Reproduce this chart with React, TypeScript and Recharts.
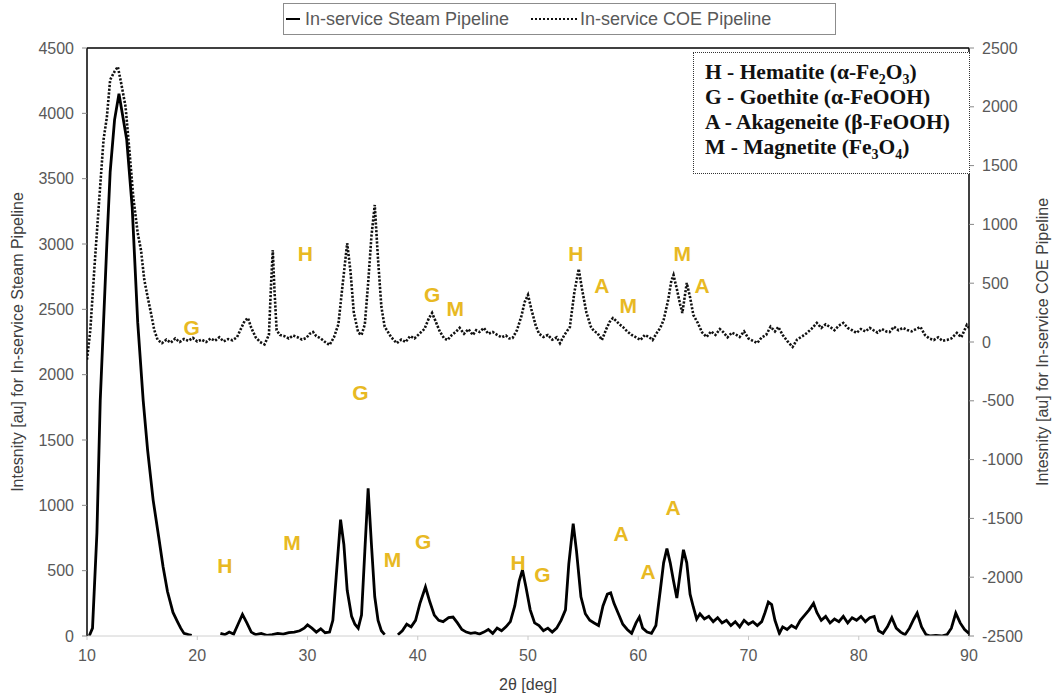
import React from 'react';
import { ComposedChart, Line, Scatter, XAxis, YAxis, ReferenceLine } from 'recharts';

// 2θ positions and intensities
const steamX = [10.2, 10.5, 10.9, 11.2, 11.5, 11.8, 12.1, 12.5, 12.9, 13.2, 13.6, 14.1, 14.6, 15.1, 15.5, 16.0, 16.5, 16.9, 17.3, 17.8, 18.2, 18.5, 18.8, 19.2, 19.5, 19.6, 21.9,
  22.1, 22.5, 22.9, 23.3, 23.7, 24.1, 24.5, 24.9, 25.3, 25.8, 26.3, 26.8, 27.3, 27.8, 28.3, 28.8, 29.3, 29.7, 30.0, 30.4, 30.8, 31.2, 31.6, 32.0,
  32.3, 32.6, 33.0, 33.3, 33.6, 34.0, 34.3, 34.6, 34.9, 35.2, 35.5, 35.8, 36.1, 36.4, 36.7, 37.0, 37.2, 38.0,
  38.2, 38.6, 39.0, 39.4, 39.8, 40.2, 40.7, 41.1, 41.5, 41.9, 42.3, 42.8, 43.2, 43.6, 44.0, 44.4, 44.8, 45.2, 45.6, 46.0, 46.4, 46.8, 47.2, 47.6, 48.0,
  48.4, 48.8, 49.2, 49.5, 49.8, 50.2, 50.6, 51.0, 51.4, 51.8, 52.2, 52.6, 53.0, 53.4, 53.7, 54.1, 54.4, 54.8, 55.2, 55.6, 56.0, 56.4, 56.8, 57.2, 57.5,
  57.8, 58.2, 58.6, 59.0, 59.4, 59.8, 60.1, 60.4, 60.8, 61.2, 61.6, 62.0, 62.3, 62.6, 62.9, 63.2, 63.5, 63.8, 64.1, 64.4, 64.7, 65.0, 65.3, 65.6,
  66.0, 66.4, 66.8, 67.2, 67.6, 68.0, 68.4, 68.8, 69.2, 69.6, 70.0, 70.4, 70.8, 71.2, 71.5, 71.8, 72.1, 72.4, 72.8, 73.1, 73.5, 73.9, 74.3, 74.7,
  75.1, 75.5, 75.9, 76.2, 76.6, 77.0, 77.4, 77.8, 78.2, 78.6, 79.0, 79.4, 79.8, 80.2, 80.6, 81.0, 81.4, 81.8, 82.2, 82.6, 83.0, 83.4, 83.8, 84.2,
  84.6, 85.0, 85.3, 85.7, 86.1, 86.5, 87.0, 87.5, 88.0, 88.4, 88.8, 89.2, 89.6, 90.0];
const steamY = [0, 60, 790, 1800, 2400, 3000, 3550, 3950, 4150, 4000, 3800, 3280, 2400, 1800, 1420, 1040, 760, 530, 340, 180, 110, 60, 20, 10, 5, null, null,
  20, 10, 30, 15, 90, 165, 100, 30, 10, 20, 5, 10, 20, 15, 25, 30, 40, 60, 85, 60, 30, 55, 25, 30,
  120, 450, 890, 700, 350, 150, 90, 60, 160, 650, 1130, 700, 300, 120, 40, 10, null, null,
  10, 40, 90, 70, 120, 250, 375, 260, 160, 120, 110, 140, 145, 100, 50, 30, 20, 25, 15, 30, 50, 20, 60, 40, 70,
  110, 230, 420, 505, 380, 200, 100, 80, 40, 60, 30, 60, 120, 200, 550, 860, 650, 300, 170, 120, 100, 80, 230, 320, 330,
  250, 170, 90, 50, 20, 100, 145, 60, 30, 20, 80, 350, 560, 670, 560, 420, 290, 480, 660, 560, 320, 220, 130, 170,
  130, 150, 110, 140, 100, 120, 80, 110, 70, 120, 90, 110, 80, 110, 180, 260, 240, 120, 20, 70, 50, 80, 60, 120,
  160, 200, 250, 180, 120, 150, 100, 130, 110, 150, 100, 140, 120, 150, 110, 140, 150, 40, 20, 70, 140, 60, 30, 10,
  60, 130, 176, 70, 10, 0, 5, 0, 10, 60, 175, 100, 50, 20];

const coeX = [10.0, 10.3, 10.7, 11.1, 11.5, 11.8, 12.1, 12.5, 12.8, 13.1, 13.5, 13.9, 14.2, 14.6, 14.9, 15.2, 15.5, 15.8, 16.1, 16.4, 16.8, 17.2, 17.6,
  18.0, 18.4, 18.8, 19.2, 19.6, 20.0, 20.4, 20.8, 21.2, 21.6, 22.0, 22.4, 22.8, 23.2, 23.6, 23.9, 24.3, 24.6, 24.9, 25.3, 25.7, 26.1, 26.5, 26.7, 26.85,
  27.0, 27.2, 27.5, 27.9, 28.3, 28.7, 29.1, 29.5, 29.9, 30.2, 30.5, 30.8, 31.2, 31.6, 32.0, 32.4, 32.8, 33.2, 33.6, 33.9, 34.2, 34.6, 34.9, 35.2, 35.5,
  35.8, 36.1, 36.4, 36.7, 37.0, 37.2, 37.6, 38.1, 38.5, 38.9, 39.3, 39.7, 40.2, 40.6, 41.0, 41.3, 41.6, 42.0, 42.4, 42.7, 43.1, 43.5, 43.8, 44.2, 44.6,
  45.0, 45.3, 45.6, 46.0, 46.4, 46.8, 47.2, 47.6, 48.0, 48.3, 48.6, 49.0, 49.4, 49.7, 50.0, 50.3, 50.7, 51.0, 51.4, 51.8, 52.2, 52.6, 52.9, 53.3, 53.8,
  54.2, 54.6, 54.9, 55.3, 55.7, 56.0, 56.3, 56.7, 57.1, 57.4, 57.7, 58.0, 58.3, 58.6, 59.0, 59.4, 59.8, 60.2, 60.6, 61.0, 61.3, 61.7, 62.0, 62.3, 62.7,
  63.0, 63.2, 63.5, 63.8, 64.0, 64.4, 64.7, 65.0, 65.4, 65.8, 66.2, 66.6, 67.0, 67.4, 67.7, 68.1, 68.5, 68.9, 69.2, 69.6, 70.0, 70.4, 70.8, 71.2, 71.6,
  72.0, 72.4, 72.7, 73.1, 73.5, 74.0, 74.4, 74.9, 75.3, 75.7, 76.2, 76.6, 77.0, 77.4, 77.8, 78.2, 78.6, 79.0, 79.4, 79.8, 80.2, 80.6, 81.0, 81.3, 81.7,
  82.1, 82.5, 82.8, 83.2, 83.6, 84.0, 84.4, 84.8, 85.2, 85.6, 86.0, 86.4, 86.8, 87.2, 87.6, 88.0, 88.4, 88.9, 89.3, 89.8, 90.0];
const coeY = [-150, 100, 670, 1200, 1720, 1910, 2230, 2300, 2340, 2200, 2000, 1570, 1230, 927, 780, 527, 383, 247, 102, 20, -10, 20, -5,
  30, 0, 25, 10, 35, 5, 20, 0, 30, 10, 40, 5, 25, 15, 40, 100, 180, 204, 120, 40, 0, -20, 60, 500, 782,
  450, 100, 60, 50, 30, 55, 40, 20, 35, 70, 85, 50, 30, 0, -25, 40, 150, 500, 840, 600, 250, 80, 60, 150, 500,
  900, 1165, 700, 300, 130, 100, 40, -10, 20, 0, 50, 30, 75, 110, 200, 247, 180, 90, 30, 17, 60, 90, 120, 70, 110,
  60, 100, 85, 120, 70, 85, 60, 40, 55, 30, 34, 100, 220, 340, 400, 280, 140, 70, 43, 60, 20, 40, -10, 60, 128,
  420, 621, 450, 250, 130, 90, 77, 17, 110, 170, 204, 180, 150, 128, 90, 60, 40, 17, 60, 40, 17, 80, 120, 187, 350,
  520, 570, 450, 320, 247, 502, 380, 230, 162, 80, 43, 90, 60, 110, 85, 40, 80, 60, 43, 90, 30, 10, -8, 40, 60,
  130, 90, 128, 60, 10, -42, 20, 50, 77, 110, 162, 120, 150, 128, 100, 140, 162, 120, 100, 77, 110, 90, 120, 102, 80,
  110, 90, 85, 130, 100, 120, 102, 90, 110, 128, 60, 30, 17, 40, 10, 17, 30, 77, 40, 145, 120];

// phase markers (letter, 2θ, position on the left intensity scale)
const markLetters = ['G', 'H', 'G', 'M', 'H', 'A', 'M', 'M', 'A', 'G', 'H', 'M', 'M', 'G', 'H', 'G', 'A', 'A', 'A'];
const markX = [19.5, 29.8, 41.3, 43.4, 54.35, 56.7, 59.1, 64.0, 65.8, 34.8, 22.5, 28.6, 37.7, 40.5, 49.1, 51.3, 58.45, 60.9, 63.15];
const markY = [2364, 2931, 2610, 2510, 2931, 2686, 2533, 2931, 2686, 1860, 543, 712, 582, 727, 559, 474, 788, 497, 980];

const xTicks = [10, 20, 30, 40, 50, 60, 70, 80, 90];
const leftTicks = [0, 500, 1000, 1500, 2000, 2500, 3000, 3500, 4000, 4500];
const rightTicks = [-2500, -2000, -1500, -1000, -500, 0, 500, 1000, 1500, 2000, 2500];

const steamData = steamX.map((x, i) => ({ x, steam: steamY[i] }));
const coeData = coeX.map((x, i) => ({ x, coe: coeY[i] }));
const markData = markX.map((x, i) => ({ x, y: markY[i], t: markLetters[i] }));

const sans = '"Liberation Sans", Arial, sans-serif';
const tickStyle = { fill: '#595959', fontSize: 16, fontFamily: sans };
const gold = '#e8b923';

const Letter = (p: any) => (
  <text x={p.cx} y={p.cy} textAnchor="middle" dominantBaseline="central"
    fill={gold} fontSize={21} fontWeight="bold" fontFamily={sans}>{p.payload.t}</text>
);

const sub = { fontSize: 14, verticalAlign: 'sub' as const, lineHeight: 0 };

export default function App() {
  return (
    <div style={{ position: 'absolute', left: 0, top: 0, width: 1056, height: 696, background: '#fff' }}>
      <ComposedChart width={1056} height={696} margin={{ top: 48, right: 0, bottom: 0, left: 0 }}>
        <XAxis type="number" dataKey="x" domain={[10, 90]} ticks={xTicks} allowDataOverflow
          height={60} tick={tickStyle} tickSize={4} tickMargin={10}
          axisLine={{ stroke: '#d0d0d0' }} tickLine={{ stroke: '#c8c8c8' }}
          label={{ value: '2θ [deg]', position: 'insideBottom', offset: 6, fill: '#404040', fontSize: 16, fontFamily: sans }} />
        <YAxis yAxisId="left" orientation="left" domain={[0, 4500]} ticks={leftTicks} allowDataOverflow
          width={87} tick={tickStyle} tickSize={5} tickMargin={8}
          axisLine={{ stroke: '#000', strokeWidth: 1.5 }} tickLine={{ stroke: '#888' }}
          label={{ value: 'Intesnity [au] for In-service Steam Pipeline', angle: -90, position: 'insideLeft', offset: 17, style: { textAnchor: 'middle' }, fill: '#404040', fontSize: 16, fontFamily: sans }} />
        <YAxis yAxisId="right" orientation="right" domain={[-2500, 2500]} ticks={rightTicks} allowDataOverflow
          width={87} tick={tickStyle} tickSize={5} tickMargin={8}
          axisLine={{ stroke: '#000', strokeWidth: 1.5 }} tickLine={{ stroke: '#888' }}
          label={{ value: 'Intesnity [au] for In-service COE Pipeline', angle: -90, position: 'insideRight', offset: 14, style: { textAnchor: 'middle' }, fill: '#404040', fontSize: 16, fontFamily: sans }} />
        <ReferenceLine yAxisId="left" y={4500} stroke="#000" strokeWidth={1.5} />
        <Line yAxisId="right" data={coeData} dataKey="coe" type="linear" stroke="#111" strokeWidth={2.6}
          strokeDasharray="2.2 1.6" dot={false} isAnimationActive={false} />
        <Line yAxisId="left" data={steamData} dataKey="steam" type="linear" stroke="#000" strokeWidth={2.8}
          dot={false} connectNulls={false} isAnimationActive={false} />
        <Scatter yAxisId="left" data={markData} dataKey="y" shape={Letter} isAnimationActive={false} />
      </ComposedChart>

      <div style={{ position: 'absolute', left: 283, top: 3, width: 553, height: 32, border: '1px solid #8c8c8c', boxSizing: 'border-box',
        fontFamily: sans, fontSize: 18, color: '#595959', display: 'flex', alignItems: 'center', whiteSpace: 'nowrap' }}>
        <span style={{ display: 'inline-block', width: 14, borderTop: '2.5px solid #000', marginLeft: 2, marginRight: 5 }} />
        <span>In-service Steam Pipeline</span>
        <span style={{ display: 'inline-block', width: 46, borderTop: '2.5px dotted #111', marginLeft: 22, marginRight: 3 }} />
        <span>In-service COE Pipeline</span>
      </div>

      <div style={{ position: 'absolute', left: 693, top: 52, width: 277, height: 122, border: '1.5px dotted #333', boxSizing: 'border-box',
        fontFamily: '"Liberation Serif", "Times New Roman", serif', fontWeight: 'bold', fontSize: 21.5, lineHeight: '25px',
        color: '#111', padding: '7px 0 0 11px', background: '#fff', whiteSpace: 'nowrap' }}>
        <div>H - Hematite (α-Fe<span style={sub}>2</span>O<span style={sub}>3</span>)</div>
        <div>G - Goethite (α-FeOOH)</div>
        <div>A - Akageneite (β-FeOOH)</div>
        <div>M - Magnetite (Fe<span style={sub}>3</span>O<span style={sub}>4</span>)</div>
      </div>
    </div>
  );
}
